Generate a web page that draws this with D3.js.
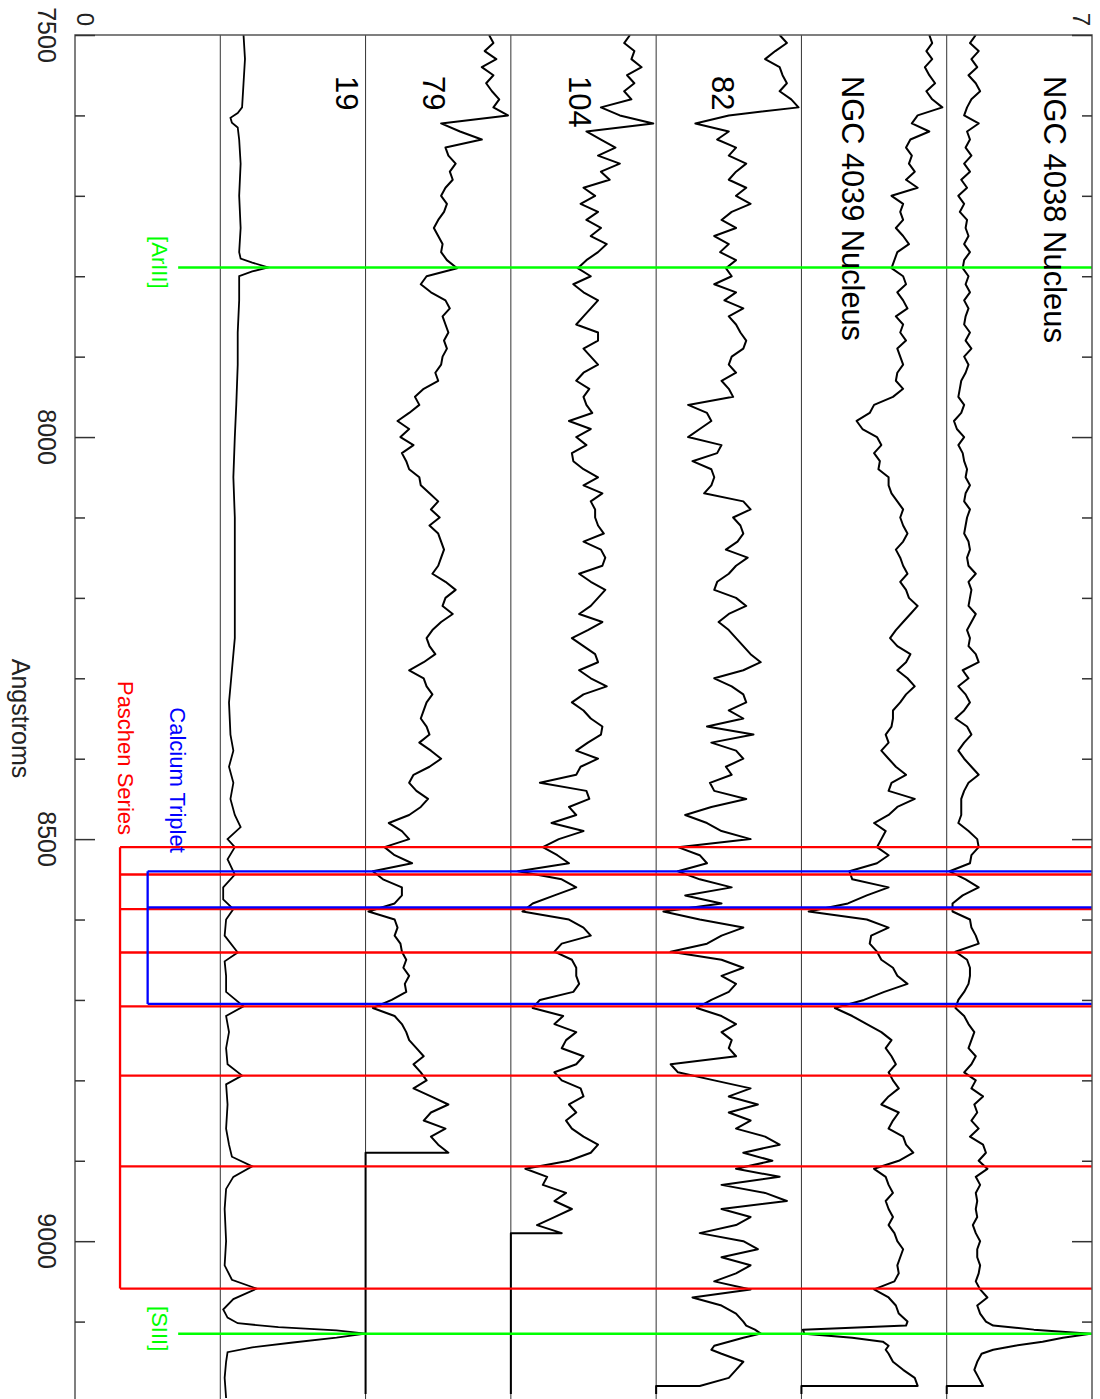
<!DOCTYPE html>
<html><head><meta charset="utf-8">
<script src="https://cdn.jsdelivr.net/npm/d3@7"></script>
<style>
body{margin:0;background:#fff}
svg{display:block}
text{font-family:"Liberation Sans",Arial,Helvetica,sans-serif}
</style>
</head><body>
<svg id="chart" width="1100" height="1399"></svg>
<script>
// ---------------- DATA ----------------
const wave = [
7500,7510,7520,7530,7540,7550,7560,7570,7580,7590,
7600,7610,7620,7630,7640,7650,7660,7670,7680,7690,
7700,7710,7720,7730,7740,7750,7760,7770,7780,7790,
7800,7810,7820,7830,7840,7850,7860,7870,7880,7890,
7900,7910,7920,7930,7940,7950,7960,7970,7980,7990,
8000,8010,8020,8030,8040,8050,8060,8070,8080,8090,
8100,8110,8120,8130,8140,8150,8160,8170,8180,8190,
8200,8210,8220,8230,8240,8250,8260,8270,8280,8290,
8300,8310,8320,8330,8340,8350,8360,8370,8380,8390,
8400,8410,8420,8430,8440,8450,8460,8470,8480,8490,
8500,8510,8520,8530,8540,8550,8560,8570,8580,8590,
8600,8610,8620,8630,8640,8650,8660,8670,8680,8690,
8700,8710,8720,8730,8740,8750,8760,8770,8780,8790,
8800,8810,8820,8830,8840,8850,8860,8870,8880,8890,
8900,8910,8920,8930,8940,8950,8960,8970,8980,8990,
9000,9010,9020,9030,9040,9050,9060,9070,9080,9090,
9100,9105,9110,9115,9120,9125,9130,9135,9140,9150,9160,9170,9180,9190];

const spec79 = [
0.85,0.88,0.82,0.9,0.8,0.88,0.83,0.87,0.92,0.88,
0.98,0.52,0.65,0.8,0.55,0.57,0.62,0.58,0.6,0.55,
0.52,0.56,0.54,0.5,0.47,0.5,0.53,0.52,0.56,0.63,
0.42,0.38,0.45,0.55,0.58,0.53,0.55,0.57,0.54,0.56,
0.53,0.52,0.48,0.5,0.4,0.34,0.37,0.3,0.22,0.3,
0.24,0.33,0.25,0.28,0.3,0.37,0.38,0.44,0.5,0.45,
0.51,0.44,0.5,0.52,0.54,0.52,0.5,0.46,0.55,0.62,
0.55,0.53,0.6,0.52,0.46,0.42,0.44,0.48,0.4,0.3,
0.4,0.42,0.46,0.42,0.4,0.38,0.42,0.44,0.37,0.45,
0.52,0.44,0.33,0.3,0.35,0.43,0.38,0.3,0.16,0.25,
0.3,0.13,0.2,0.32,0.05,0.12,0.25,0.25,0.2,0.02,
0.2,0.22,0.2,0.24,0.25,0.28,0.26,0.3,0.27,0.28,
0.18,0.05,0.2,0.25,0.28,0.3,0.35,0.4,0.33,0.38,
0.42,0.33,0.45,0.57,0.45,0.4,0.55,0.45,0.5,0.57,
0,0,0,0,0,0,0,0,0,0,
0,0,0,0,0,0,0,0,0,0,
0,0,0,0,0,0,0,0,0,0,0,0,0,0];

const spec104 = [
0.82,0.78,0.85,0.83,0.9,0.8,0.85,0.78,0.83,0.62,
0.75,0.98,0.52,0.62,0.72,0.6,0.75,0.62,0.68,0.5,
0.58,0.48,0.6,0.52,0.62,0.55,0.66,0.6,0.52,0.46,
0.55,0.43,0.5,0.6,0.55,0.5,0.45,0.6,0.6,0.5,
0.55,0.6,0.5,0.45,0.54,0.5,0.52,0.56,0.4,0.55,
0.45,0.52,0.42,0.43,0.5,0.6,0.5,0.63,0.55,0.58,
0.58,0.6,0.64,0.5,0.62,0.65,0.63,0.47,0.55,0.65,
0.6,0.55,0.47,0.63,0.53,0.42,0.5,0.58,0.6,0.47,
0.55,0.66,0.5,0.42,0.5,0.55,0.63,0.62,0.53,0.45,
0.6,0.48,0.45,0.2,0.52,0.54,0.4,0.45,0.28,0.5,
0.33,0.22,0.32,0.4,0.05,0.35,0.45,0.3,0.15,0.08,
0.4,0.5,0.55,0.35,0.3,0.42,0.45,0.45,0.47,0.43,
0.2,0.15,0.36,0.3,0.45,0.38,0.35,0.5,0.45,0.3,
0.35,0.48,0.5,0.4,0.45,0.38,0.42,0.5,0.6,0.55,
0.4,0.1,0.25,0.22,0.38,0.3,0.42,0.3,0.18,0.35,
0,0,0,0,0,0,0,0,0,0,
0,0,0,0,0,0,0,0,0,0,0,0,0,0];

const spec82 = [
0.85,0.9,0.82,0.75,0.85,0.87,0.9,0.85,0.93,0.98,
0.5,0.27,0.5,0.42,0.55,0.5,0.62,0.55,0.5,0.62,
0.55,0.65,0.52,0.45,0.55,0.4,0.5,0.44,0.55,0.48,
0.52,0.4,0.55,0.47,0.6,0.5,0.55,0.58,0.62,0.6,
0.52,0.5,0.55,0.45,0.5,0.53,0.22,0.35,0.38,0.3,
0.22,0.45,0.42,0.25,0.38,0.4,0.38,0.33,0.6,0.65,
0.53,0.58,0.6,0.56,0.48,0.63,0.55,0.5,0.42,0.4,
0.55,0.62,0.5,0.43,0.5,0.55,0.6,0.65,0.72,0.6,
0.4,0.52,0.6,0.62,0.5,0.6,0.35,0.67,0.38,0.55,
0.6,0.48,0.52,0.37,0.4,0.62,0.38,0.2,0.35,0.45,
0.65,0.15,0.3,0.35,0.15,0.3,0.52,0.2,0.45,0.05,
0.3,0.6,0.45,0.35,0.1,0.45,0.6,0.45,0.55,0.5,
0.38,0.28,0.45,0.55,0.45,0.52,0.5,0.55,0.1,0.15,
0.4,0.65,0.5,0.7,0.5,0.65,0.55,0.75,0.85,0.6,
0.8,0.55,0.85,0.45,0.75,0.9,0.45,0.65,0.55,0.3,
0.6,0.7,0.45,0.65,0.55,0.4,0.65,0.25,0.45,0.55,
0.6,0.62,0.68,0.72,0.6,0.5,0.4,0.38,0.45,0.6,0.55,0.5,0.3,0];

const spec4039 = [
0.88,0.9,0.86,0.9,0.85,0.88,0.92,0.86,0.9,0.97,
0.8,0.76,0.88,0.75,0.72,0.76,0.74,0.78,0.72,0.8,
0.62,0.7,0.68,0.7,0.65,0.7,0.74,0.66,0.64,0.62,
0.7,0.72,0.66,0.7,0.73,0.65,0.7,0.68,0.72,0.66,
0.68,0.7,0.66,0.65,0.7,0.63,0.5,0.47,0.38,0.42,
0.52,0.55,0.5,0.54,0.53,0.6,0.6,0.62,0.66,0.7,
0.68,0.7,0.73,0.7,0.65,0.68,0.7,0.73,0.68,0.72,
0.74,0.8,0.75,0.7,0.65,0.61,0.66,0.75,0.72,0.66,
0.73,0.78,0.72,0.68,0.63,0.63,0.62,0.58,0.6,0.55,
0.6,0.65,0.72,0.62,0.6,0.78,0.66,0.6,0.5,0.58,
0.55,0.52,0.6,0.52,0.33,0.35,0.6,0.45,0.32,0.05,
0.45,0.6,0.48,0.47,0.52,0.55,0.63,0.66,0.73,0.57,
0.43,0.23,0.35,0.45,0.55,0.62,0.58,0.62,0.65,0.6,
0.63,0.67,0.6,0.55,0.67,0.63,0.6,0.7,0.72,0.77,
0.67,0.5,0.58,0.6,0.63,0.58,0.6,0.63,0.6,0.64,
0.66,0.7,0.68,0.66,0.67,0.64,0.5,0.6,0.65,0.67,
0.73,0.72,0.01,0.02,0.35,0.56,0.6,0.58,0.6,0.63,0.7,0.78,0.8,0];

const spec4038 = [
0.2,0.16,0.22,0.17,0.21,0.15,0.2,0.23,0.17,0.14,
0.12,0.22,0.14,0.16,0.13,0.17,0.12,0.16,0.1,0.14,
0.08,0.12,0.09,0.14,0.13,0.15,0.12,0.16,0.12,0.11,
0.15,0.13,0.16,0.12,0.15,0.13,0.12,0.16,0.13,0.17,
0.12,0.15,0.13,0.1,0.09,0.08,0.12,0.1,0.05,0.07,
0.12,0.08,0.11,0.12,0.14,0.13,0.16,0.13,0.12,0.16,
0.14,0.13,0.12,0.15,0.16,0.14,0.15,0.2,0.15,0.17,
0.16,0.15,0.2,0.17,0.14,0.16,0.15,0.2,0.22,0.11,
0.15,0.08,0.13,0.16,0.12,0.06,0.14,0.17,0.12,0.08,
0.12,0.17,0.22,0.15,0.12,0.1,0.1,0.1,0.08,0.15,
0.21,0.22,0.17,0.16,0.02,0.13,0.22,0.11,0.04,0.04,
0.16,0.17,0.2,0.22,0.06,0.14,0.16,0.16,0.15,0.12,
0.08,0.06,0.12,0.15,0.19,0.17,0.15,0.2,0.17,0.12,
0.2,0.17,0.25,0.19,0.21,0.17,0.22,0.16,0.25,0.27,
0.22,0.28,0.2,0.23,0.2,0.21,0.2,0.21,0.18,0.2,
0.23,0.21,0.21,0.23,0.22,0.2,0.23,0.28,0.21,0.23,
0.27,0.32,0.6,0.99,0.8,0.66,0.47,0.32,0.24,0.21,0.19,0.22,0.25,0];

// cluster 19: [wavelength, flux] pairs (narrow emission lines need finer sampling)
const spec19 = [
[7500,0.16],[7530,0.17],[7560,0.16],[7590,0.15],[7597,0.12],[7603,0.07],[7609,0.08],[7615,0.12],
[7630,0.13],[7660,0.14],[7700,0.13],[7740,0.14],[7770,0.13],[7778,0.14],[7783,0.22],[7789,0.33],
[7794,0.22],[7800,0.13],[7830,0.13],[7870,0.12],[7910,0.12],[7960,0.11],[8000,0.1],[8050,0.09],
[8100,0.1],[8150,0.1],[8200,0.1],[8250,0.1],[8290,0.08],[8330,0.06],[8370,0.07],[8390,0.09],
[8410,0.06],[8430,0.09],[8450,0.07],[8470,0.1],[8485,0.14],[8500,0.05],[8510,0.1],[8525,0.05],
[8544,0.1],[8560,0.02],[8575,0.02],[8587,0.09],[8600,0.04],[8620,0.03],[8641,0.12],[8652,0.03],
[8670,0.04],[8690,0.04],[8708,0.16],[8720,0.04],[8740,0.06],[8760,0.04],[8780,0.05],[8794,0.15],
[8805,0.04],[8830,0.05],[8860,0.04],[8880,0.06],[8895,0.08],[8907,0.22],[8920,0.09],[8935,0.04],
[8960,0.03],[9000,0.04],[9030,0.03],[9048,0.08],[9059,0.25],[9072,0.09],[9085,0.02],[9095,0.05],
[9102,0.12],[9107,0.4],[9111,0.8],[9115,1.0],[9120,0.8],[9126,0.5],[9132,0.22],[9138,0.05],
[9150,0.04],[9170,0.03],[9195,0.04]];

const specNames = ["19","79","104","82","NGC 4039 Nucleus","NGC 4038 Nucleus"];
const specOffsets = [1,2,3,4,5,6];

const pashenLines = [8510,8544,8587,8641,8708,8794,8907,9059];
const calciumLines = [8540,8585,8705];
const forbiddenLines = [7789,9115];
const forbiddenNames = ["[ArIII]","[SIII]"];

const majorTicks = [7500,8000,8500,9000];
const minorTicks = [7600,7700,7800,7900,8100,8200,8300,8400,8600,8700,8800,8900,9100];
const fluxTickValues = [0,7];
const fluxTickLabels = ["0","7"];

// ---------------- DRAWING ----------------
const svg = d3.select("#chart");
const W = d3.scaleLinear().domain([7500, 9200]).range([35, 1402]);   // wavelength -> vertical
const F = d3.scaleLinear().domain([0, 7]).range([75, 1092]);         // flux -> horizontal

function rotText(x, y, txt, size, anchor, color, len) {
  const t = svg.append("text")
    .attr("transform", `translate(${x},${y}) rotate(90)`)
    .attr("text-anchor", anchor)
    .attr("font-size", size)
    .attr("fill", color || "#000")
    .text(txt);
  if (len) t.attr("textLength", len).attr("lengthAdjust", "spacingAndGlyphs");
  return t;
}

svg.append("clipPath").attr("id", "pa").append("rect")
  .attr("x", F(0)).attr("y", W(7500)).attr("width", F(7) - F(0)).attr("height", W(9200) - W(7500));

// offset baselines
svg.append("g").selectAll("line").data(specOffsets).join("line")
  .attr("x1", d => F(d)).attr("x2", d => F(d))
  .attr("y1", W(7500)).attr("y2", W(9200))
  .attr("stroke", "#333").attr("stroke-width", 1);

// spectra
const plot = svg.append("g").attr("clip-path", "url(#pa)");
const line = d3.line().x(d => F(d[1])).y(d => W(d[0]));
const gridSpectra = [spec79, spec104, spec82, spec4039, spec4038];
function pointsFor(vals, off) {
  const pts = [];
  for (let i = 0; i < vals.length; i++) {
    pts.push([wave[i], off + vals[i]]);
    if (vals[i] !== 0 && i + 1 < vals.length && vals[i + 1] === 0) pts.push([wave[i], off]);
  }
  return pts;
}
plot.append("path").datum(spec19.map(d => [d[0], specOffsets[0] + d[1]]))
  .attr("d", line).attr("fill", "none").attr("stroke", "#000").attr("stroke-width", 1.8);
gridSpectra.forEach((vals, k) => {
  plot.append("path").datum(pointsFor(vals, specOffsets[k + 1]))
    .attr("d", line).attr("fill", "none").attr("stroke", "#000")
    .attr("stroke-width", 2).attr("stroke-linejoin", "round");
});

// line markers
const redX = F(0.31), blueX = F(0.5), greenX = F(0.71), endX = F(7);
const marks = svg.append("g");
marks.selectAll(".pl").data(pashenLines).join("line")
  .attr("x1", redX).attr("x2", endX).attr("y1", d => W(d)).attr("y2", d => W(d))
  .attr("stroke", "#ff0000").attr("stroke-width", 2.3);
marks.append("line").attr("x1", redX).attr("x2", redX)
  .attr("y1", W(d3.min(pashenLines))).attr("y2", W(d3.max(pashenLines)))
  .attr("stroke", "#ff0000").attr("stroke-width", 2.3);
marks.selectAll(".ca").data(calciumLines).join("line")
  .attr("x1", blueX).attr("x2", endX).attr("y1", d => W(d)).attr("y2", d => W(d))
  .attr("stroke", "#0000ff").attr("stroke-width", 2.3);
marks.append("line").attr("x1", blueX).attr("x2", blueX)
  .attr("y1", W(d3.min(calciumLines))).attr("y2", W(d3.max(calciumLines)))
  .attr("stroke", "#0000ff").attr("stroke-width", 2.3);
marks.selectAll(".fl").data(forbiddenLines).join("line")
  .attr("x1", greenX).attr("x2", endX).attr("y1", d => W(d)).attr("y2", d => W(d))
  .attr("stroke", "#00ff00").attr("stroke-width", 2.5);

// frame
svg.append("rect").attr("x", F(0)).attr("y", W(7500))
  .attr("width", F(7) - F(0)).attr("height", W(9200) - W(7500))
  .attr("fill", "none").attr("stroke", "#555").attr("stroke-width", 1.5);

// wavelength axis ticks (left and right, pointing inward)
function styleAxis(g) { g.select(".domain").remove(); g.selectAll("line").attr("stroke", "#333").attr("stroke-width", 1.5); }
svg.append("g").attr("transform", `translate(${F(0)},0)`)
  .call(d3.axisRight(W).tickValues(minorTicks).tickSize(10).tickFormat("")).call(styleAxis);
svg.append("g").attr("transform", `translate(${F(0)},0)`)
  .call(d3.axisRight(W).tickValues(majorTicks).tickSize(20).tickFormat("")).call(styleAxis);
svg.append("g").attr("transform", `translate(${F(7)},0)`)
  .call(d3.axisLeft(W).tickValues(minorTicks).tickSize(10).tickFormat("")).call(styleAxis);
svg.append("g").attr("transform", `translate(${F(7)},0)`)
  .call(d3.axisLeft(W).tickValues(majorTicks).tickSize(20).tickFormat("")).call(styleAxis);

// tick labels
majorTicks.forEach(t => rotText(38, W(t), String(t), 25, "middle", "#222"));
fluxTickValues.forEach((v, i) => rotText(F(v) + (i === 0 ? 2 : -19), 26, fluxTickLabels[i], 24, "end", "#222"));
rotText(12, (W(7500) + W(9200)) / 2, "Angstroms", 25, "middle", "#222");

// spectrum labels
const labelBase = [336, 423, 569, 712, 842, 1044];
const labelLen = [null, null, null, null, 265, 267];
specNames.forEach((n, i) => rotText(labelBase[i], 76, n, 31, "start", "#000", labelLen[i]));

// line labels
rotText(118, 758, "Paschen Series", 22, "middle", "#ff0000");
rotText(170, 780, "Calcium Triplet", 22, "middle", "#0000ff");
forbiddenLines.forEach((w, i) => rotText(152, W(w) - 5, forbiddenNames[i], 22, "middle", "#00ff00"));
</script>
</body></html>
